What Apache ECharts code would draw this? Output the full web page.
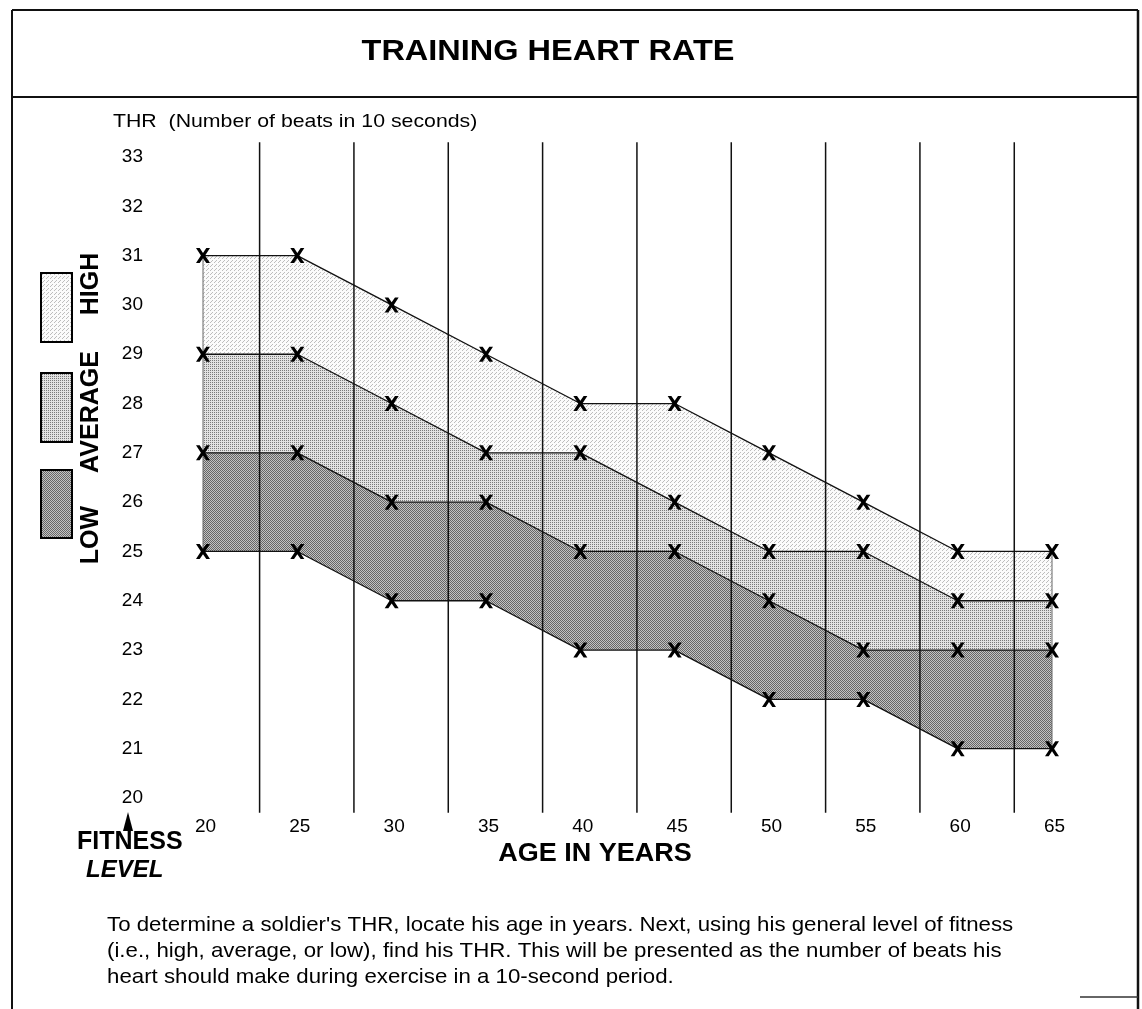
<!DOCTYPE html>
<html>
<head>
<meta charset="utf-8">
<script src="https://cdn.jsdelivr.net/npm/echarts@6/dist/echarts.min.js"></script>
<style>
html,body{margin:0;padding:0;background:#fff;}
#chart{width:1142px;height:1009px;}
</style>
</head>
<body>
<div id="chart"></div>
<script>
// ---- data ----
var ages = [20, 25, 30, 35, 40, 45, 50, 55, 60, 65];
var lowBottom = [25, 25, 24, 24, 23, 23, 22, 22, 21, 21];
var lowTop    = [27, 27, 26, 26, 25, 25, 24, 23, 23, 23];
var avgTop    = [29, 29, 28, 27, 27, 26, 25, 25, 24, 24];
var highTop   = [31, 31, 30, 29, 28, 28, 27, 26, 25, 25];
var yTicks = [20, 21, 22, 23, 24, 25, 26, 27, 28, 29, 30, 31, 32, 33];
var xTicks = [20, 25, 30, 35, 40, 45, 50, 55, 60, 65];
var dividers = [23, 28, 33, 38, 43, 48, 53, 58, 63];
var dividerSpan = [19.7, 33.3];

var title = 'TRAINING HEART RATE';
var yTitle = 'THR  (Number of beats in 10 seconds)';
var xTitle = 'AGE IN YEARS';
var note = [
  "To determine a soldier's THR, locate his age in years. Next, using his general level of fitness",
  "(i.e., high, average, or low), find his THR. This will be presented as the number of beats his",
  "heart should make during exercise in a 10-second period."
];

var FONT = '"Liberation Sans", Arial, Helvetica, sans-serif';
var XMARK = 'path://M0,0 L3.7,0 L7,4.5 L10.3,0 L14,0 L9.1,7 L14,14 L10.3,14 L7,9.5 L3.7,14 L0,14 L4.9,7 Z';

// stipple textures
function makePattern(size, bg, dots, dotColor) {
  var c = document.createElement('canvas');
  c.width = size; c.height = size;
  var ctx = c.getContext('2d');
  ctx.fillStyle = bg; ctx.fillRect(0, 0, size, size);
  ctx.fillStyle = dotColor;
  dots.forEach(function (d) { ctx.fillRect(d[0], d[1], 1, 1); });
  return {image: c, repeat: 'repeat'};
}
var P_LOW  = makePattern(2, '#c2c2c2', [[0, 0], [1, 1]], '#666666');
var P_AVG  = makePattern(2, '#e2e2e2', [[0, 0]], '#7a7a7a');
var P_HIGH = makePattern(4, '#fbfbfb', [[0, 0], [2, 2], [3, 1]], '#bdbdbd');

function pairs(vals) { return vals.map(function (v, i) { return [ages[i], v]; }); }

// bands: [lower boundary, upper boundary, fill]
var bands = [
  [lowBottom, lowTop, P_LOW],
  [lowTop, avgTop, P_AVG],
  [avgTop, highTop, P_HIGH]
];

var chart = echarts.init(document.getElementById('chart'), null, {renderer: 'canvas'});

function boundarySeries(name, vals) {
  return {
    name: name, type: 'line', data: pairs(vals),
    symbol: XMARK, symbolSize: [14, 15], showSymbol: true,
    itemStyle: {color: '#000'},
    lineStyle: {color: '#111', width: 1.3},
    z: 4, silent: true, clip: false
  };
}

function txt(x, y, text, font, align, sx, rot) {
  var el = {type: 'text', x: x, y: y, scaleX: sx || 1,
    style: {text: text, font: font, fill: '#000', textAlign: align || 'left', textVerticalAlign: 'middle'}};
  if (rot) el.rotation = rot;
  return el;
}

var option = {
  animation: false,
  backgroundColor: '#fff',
  textStyle: {fontFamily: FONT},
  grid: {left: 203, right: 90, top: 157, bottom: 211, containLabel: false},
  xAxis: {
    type: 'value', min: 20, max: 65, interval: 5,
    axisLine: {show: false}, axisTick: {show: false}, splitLine: {show: false},
    axisLabel: {margin: 19, fontSize: 19, color: '#000', fontFamily: FONT, padding: [0, 0, 0, 5],
      formatter: function (v) { return xTicks.indexOf(v) >= 0 ? String(v) : ''; }}
  },
  yAxis: {
    type: 'value', min: 20, max: 33, interval: 1,
    axisLine: {show: false}, axisTick: {show: false}, splitLine: {show: false},
    axisLabel: {margin: 60, fontSize: 19, color: '#000', fontFamily: FONT,
      formatter: function (v) { return yTicks.indexOf(v) >= 0 ? String(v) : ''; }}
  },
  series: [
    {
      name: 'bands', type: 'custom', silent: true, clip: false, z: 1,
      data: bands.map(function (b, i) { return [i]; }),
      renderItem: function (params, api) {
        var b = bands[api.value(0)];
        var pts = [];
        for (var i = 0; i < ages.length; i++) pts.push(api.coord([ages[i], b[1][i]]));
        for (var j = ages.length - 1; j >= 0; j--) pts.push(api.coord([ages[j], b[0][j]]));
        return {type: 'polygon', shape: {points: pts}, style: {fill: b[2], stroke: null}};
      }
    },
    boundarySeries('lowBottom', lowBottom),
    boundarySeries('lowTop', lowTop),
    boundarySeries('avgTop', avgTop),
    boundarySeries('highTop', highTop),
    {
      name: 'edges', type: 'custom', silent: true, clip: false, z: 2,
      data: [[ages[0], lowBottom[0], highTop[0]], [ages[ages.length - 1], lowBottom[ages.length - 1], highTop[ages.length - 1]]],
      renderItem: function (params, api) {
        var p1 = api.coord([api.value(0), api.value(1)]);
        var p2 = api.coord([api.value(0), api.value(2)]);
        return {type: 'line', shape: {x1: p1[0], y1: p1[1], x2: p2[0], y2: p2[1]},
          style: {stroke: '#666', lineWidth: 1}};
      }
    },
    {
      name: 'dividers', type: 'custom', silent: true, clip: false, z: 3,
      data: dividers.map(function (d) { return [d]; }),
      renderItem: function (params, api) {
        var p1 = api.coord([api.value(0), dividerSpan[0]]);
        var p2 = api.coord([api.value(0), dividerSpan[1]]);
        return {type: 'line', shape: {x1: p1[0], y1: p1[1], x2: p2[0], y2: p2[1]},
          style: {stroke: '#111', lineWidth: 1.5}};
      }
    }
  ],
  graphic: [
    // outer frame
    {type: 'line', shape: {x1: 12, y1: 10, x2: 1138, y2: 10}, style: {stroke: '#111', lineWidth: 2}},
    {type: 'line', shape: {x1: 12, y1: 10, x2: 12, y2: 1009}, style: {stroke: '#111', lineWidth: 2}},
    {type: 'line', shape: {x1: 1138, y1: 10, x2: 1138, y2: 1009}, style: {stroke: '#111', lineWidth: 2.5}},
    {type: 'line', shape: {x1: 12, y1: 97, x2: 1138, y2: 97}, style: {stroke: '#111', lineWidth: 2}},
    {type: 'line', shape: {x1: 1080, y1: 997, x2: 1138, y2: 997}, style: {stroke: '#333', lineWidth: 1.5}},
    // title
    txt(548, 52, title, 'bold 29px ' + FONT, 'center', 1.12),
    // y axis title
    txt(113, 122, yTitle, '19px ' + FONT, 'left', 1.12),
    // legend boxes
    {type: 'rect', shape: {x: 41, y: 273, width: 31, height: 69}, style: {fill: P_HIGH, stroke: '#000', lineWidth: 2}},
    {type: 'rect', shape: {x: 41, y: 373, width: 31, height: 69}, style: {fill: P_AVG, stroke: '#000', lineWidth: 2}},
    {type: 'rect', shape: {x: 41, y: 470, width: 31, height: 68}, style: {fill: P_LOW, stroke: '#000', lineWidth: 2}},
    txt(91, 284, 'HIGH', 'bold 25px ' + FONT, 'center', 1, Math.PI / 2),
    txt(91, 412, 'AVERAGE', 'bold 25px ' + FONT, 'center', 1, Math.PI / 2),
    txt(91, 535, 'LOW', 'bold 25px ' + FONT, 'center', 1, Math.PI / 2),
    // fitness level label + arrow
    {type: 'polygon', shape: {points: [[128, 812], [123, 831], [133, 831]]}, style: {fill: '#000'}},
    txt(77, 842, 'FITNESS', 'bold 25px ' + FONT, 'left', 1),
    txt(86, 870, 'LEVEL', 'italic bold 24px ' + FONT, 'left', 1),
    // x axis title
    txt(595, 854, xTitle, 'bold 25px ' + FONT, 'center', 1.08),
    // explanatory note
    txt(107, 925, note[0], '21px ' + FONT, 'left', 1.06),
    txt(107, 951, note[1], '21px ' + FONT, 'left', 1.06),
    txt(107, 977, note[2], '21px ' + FONT, 'left', 1.06)
  ]
};
chart.setOption(option);
</script>
</body>
</html>
